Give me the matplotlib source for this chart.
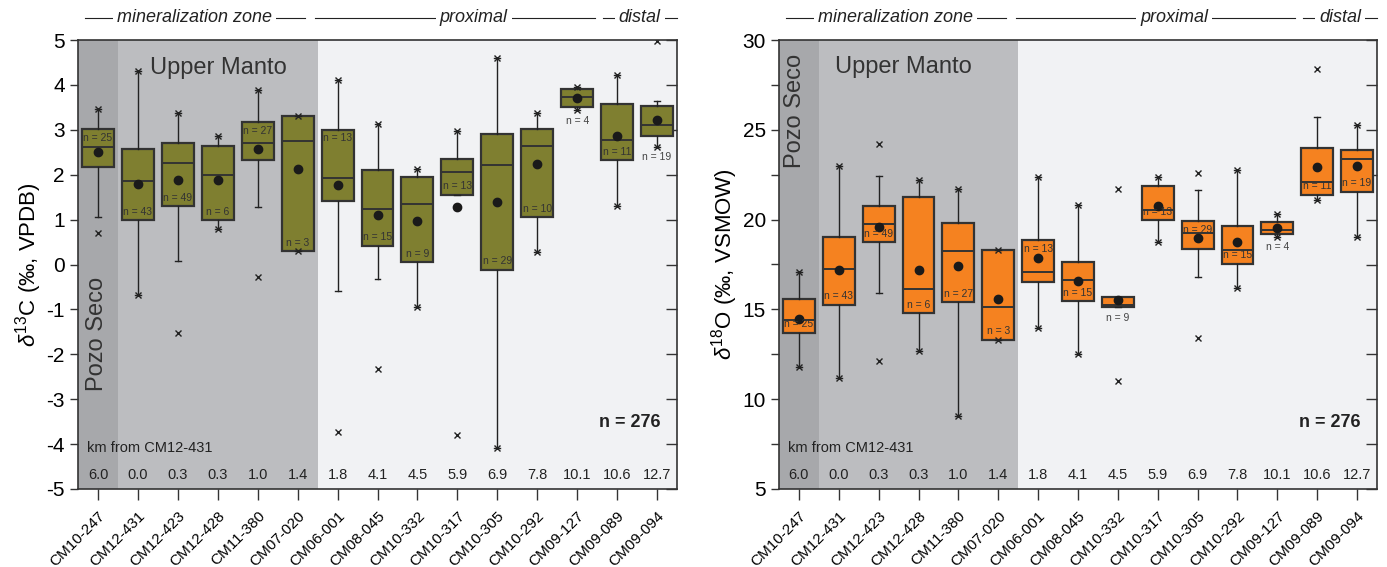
import matplotlib
matplotlib.use('Agg')
import matplotlib.pyplot as plt
import matplotlib.transforms as mtransforms
from matplotlib.ticker import MultipleLocator

plt.rcParams['font.family'] = ['Liberation Sans', 'DejaVu Sans']
plt.rcParams['mathtext.fontset'] = 'custom'
plt.rcParams['mathtext.rm'] = 'Liberation Sans'
plt.rcParams['mathtext.it'] = 'Liberation Sans:italic'
plt.rcParams['axes.unicode_minus'] = False

samples = ['CM10-247', 'CM12-431', 'CM12-423', 'CM12-428', 'CM11-380', 'CM07-020',
           'CM06-001', 'CM08-045', 'CM10-332', 'CM10-317', 'CM10-305', 'CM10-292',
           'CM09-127', 'CM09-089', 'CM09-094']
km = ['6.0', '0.0', '0.3', '0.3', '1.0', '1.4', '1.8', '4.1', '4.5', '5.9', '6.9',
      '7.8', '10.1', '10.6', '12.7']

# delta 13C
c_n = [25, 43, 49, 6, 27, 3, 13, 15, 9, 13, 29, 10, 4, 11, 19]
c_q1 = [2.17, 0.98, 1.30, 0.98, 2.33, 0.30, 1.42, 0.42, 0.05, 1.55, -0.12, 1.05, 3.51, 2.32, 2.86]
c_med = [2.62, 1.86, 2.25, 1.99, 2.71, 2.75, 1.92, 1.23, 1.34, 2.06, 2.21, 2.63, 3.72, 2.78, 3.10]
c_q3 = [3.01, 2.58, 2.70, 2.65, 3.17, 3.31, 3.00, 2.10, 1.94, 2.35, 2.90, 3.01, 3.90, 3.57, 3.53]
c_mean = [2.50, 1.80, 1.89, 1.88, 2.58, 2.13, 1.76, 1.10, 0.97, 1.27, 1.40, 2.23, 3.70, 2.87, 3.22]
c_wlo = [1.06, -0.68, 0.08, 0.80, 1.27, 0.30, -0.59, -0.32, -0.94, 1.55, -4.09, 0.27, 3.44, 1.31, 2.62]
c_whi = [3.46, 4.32, 3.38, 2.86, 3.88, 3.31, 4.12, 3.14, 2.13, 2.97, 4.59, 3.38, 3.95, 4.22, 3.64]
c_min = [0.70, -0.68, -1.53, 0.80, -0.27, 0.30, -3.72, -2.33, -0.94, -3.80, -4.09, 0.27, 3.44, 1.31, 2.62]
c_max = [3.46, 4.32, 3.38, 2.86, 3.88, 3.31, 4.12, 3.14, 2.13, 2.97, 4.59, 3.38, 3.95, 4.22, 4.97]
c_nloc = ['top', 'bottom', 'bottom', 'bottom', 'top', 'bottom', 'top', 'bottom', 'bottom',
          'bottom', 'bottom', 'bottom', 'below', 'bottom', 'below']

# delta 18O
o_n = [25, 43, 49, 6, 27, 3, 13, 15, 9, 13, 29, 15, 4, 11, 19]
o_q1 = [13.69, 15.25, 18.75, 14.78, 15.39, 13.30, 16.54, 15.45, 15.12, 19.96, 18.36, 17.54, 19.20, 21.39, 21.54]
o_med = [14.39, 17.23, 19.76, 16.14, 18.25, 15.13, 17.08, 16.64, 15.25, 20.53, 19.25, 18.32, 19.40, 22.11, 23.36]
o_q3 = [15.56, 19.03, 20.78, 21.24, 19.81, 18.29, 18.86, 17.62, 15.67, 21.85, 19.92, 19.66, 19.87, 24.00, 23.86]
o_mean = [14.49, 17.18, 19.61, 17.21, 17.43, 15.56, 17.88, 16.60, 15.52, 20.76, 18.96, 18.75, 19.53, 22.93, 22.97]
o_wlo = [11.79, 11.18, 15.93, 12.70, 9.06, 13.30, 13.94, 12.54, 15.12, 18.77, 16.82, 16.17, 19.05, 21.07, 19.01]
o_whi = [17.07, 23.00, 22.44, 22.22, 21.70, 18.29, 22.39, 20.83, 15.67, 22.39, 21.67, 22.76, 20.33, 25.70, 25.25]
o_min = [11.79, 11.18, 12.13, 12.70, 9.06, 13.30, 13.94, 12.54, 11.03, 18.77, 13.41, 16.17, 19.05, 21.07, 19.01]
o_max = [17.07, 23.00, 24.19, 22.22, 21.70, 18.29, 22.39, 20.83, 21.72, 22.39, 22.61, 22.76, 20.33, 28.37, 25.25]
o_nloc = ['bottom', 'bottom', 'bottom', 'bottom', 'bottom', 'bottom', 'top', 'bottom', 'below',
          'bottom', 'top', 'bottom', 'below', 'bottom', 'bottom']

groups = [('mineralization zone', 0.012, 0.379, 0.195),
          ('proximal', 0.396, 0.863, 0.661),
          ('distal', 0.876, 1.0, 0.938)]

DARK = '#a7a8ab'
MID = '#bcbdc0'
LIGHT = '#f1f2f4'
EDGE = '#333333'

fig = plt.figure(figsize=(13.87, 5.67), dpi=100)
axL = fig.add_axes([78 / 1387, 1 - 489 / 567, 599 / 1387, 449 / 567])
axR = fig.add_axes([779 / 1387, 1 - 489 / 567, 598 / 1387, 449 / 567])


def draw(ax, q1, med, q3, mean, wlo, whi, mn, mx, ns, nloc, color):
    stats = []
    for i in range(len(samples)):
        stats.append(dict(q1=q1[i], med=med[i], q3=q3[i], mean=mean[i],
                          whislo=wlo[i], whishi=whi[i], fliers=[mn[i], mx[i]]))
    ax.axvspan(-0.5, 0.5, color=DARK, zorder=0, lw=0)
    ax.axvspan(0.5, 5.5, color=MID, zorder=0, lw=0)
    ax.axvspan(5.5, 14.5, color=LIGHT, zorder=0, lw=0)
    ax.bxp(stats, positions=range(len(samples)), widths=0.8, patch_artist=True,
           showmeans=True, showfliers=True, capwidths=0.15,
           boxprops=dict(facecolor=color, edgecolor=EDGE, linewidth=1.6),
           medianprops=dict(color=EDGE, linewidth=1.4),
           whiskerprops=dict(color='#222222', linewidth=1.0),
           capprops=dict(color='#222222', linewidth=1.0),
           meanprops=dict(marker='o', markerfacecolor='#1a1a1a', markeredgecolor='#1a1a1a',
                          markersize=6),
           flierprops=dict(marker='x', markersize=5, markeredgecolor='#222222',
                           markeredgewidth=1.0))
    for i in range(len(samples)):
        lbl = 'n = %d' % ns[i]
        if nloc[i] == 'top':
            ax.annotate(lbl, (i, q3[i]), xytext=(0, -2.5), textcoords='offset points',
                        ha='center', va='top', fontsize=7.5, color='#333333')
        elif nloc[i] == 'bottom':
            ax.annotate(lbl, (i, q1[i]), xytext=(0, 2.5), textcoords='offset points',
                        ha='center', va='bottom', fontsize=7.5, color='#333333')
        else:
            ax.annotate(lbl, (i, min(q1[i], wlo[i])), xytext=(0, -4), textcoords='offset points',
                        ha='center', va='top', fontsize=7.5, color='#444444')
        ax.text(i, 0.031, km[i], transform=ax.get_xaxis_transform(), ha='center',
                va='center', fontsize=10.5, color='#222222')
    ax.text(0.015, 0.091, 'km from CM12-431', transform=ax.transAxes, ha='left',
            va='center', fontsize=10.5, color='#222222')
    ax.text(0.972, 0.147, 'n = 276', transform=ax.transAxes, ha='right', va='center',
            fontsize=13, fontweight='bold', color='#222222')
    ax.set_xlim(-0.5, len(samples) - 0.5)
    ax.set_xticks(range(len(samples)))
    ax.set_xticklabels(samples, rotation=45, ha='right', rotation_mode='anchor',
                       fontsize=11)
    offset = mtransforms.ScaledTranslation(7 / 72, 0, fig.dpi_scale_trans)
    for lab in ax.get_xticklabels():
        lab.set_transform(lab.get_transform() + offset)
    ax.tick_params(axis='x', direction='out', length=8, width=1, color=EDGE, pad=6)
    ax.tick_params(axis='y', which='both', direction='out', length=6, width=1, color=EDGE,
                   labelsize=15)
    ax.tick_params(axis='y', which='minor', length=6)
    for s in ax.spines.values():
        s.set_color(EDGE)
        s.set_linewidth(1.2)
    # header
    for name, x0, x1, xc in groups:
        ax.plot([x0, x1], [1.05, 1.05], transform=ax.transAxes, clip_on=False,
                color='#222222', lw=0.8, zorder=5)
        ax.text(xc, 1.05, name, transform=ax.transAxes, ha='center', va='center',
                fontsize=13, style='italic', color='#222222', zorder=6,
                bbox=dict(facecolor='white', edgecolor='none', pad=3))


draw(axL, c_q1, c_med, c_q3, c_mean, c_wlo, c_whi, c_min, c_max, c_n, c_nloc, '#7f7f30')
axL.set_ylim(-5, 5)
axL.yaxis.set_major_locator(MultipleLocator(1))
axL.set_ylabel(r'$\delta^{13}$C (‰, VPDB)', fontsize=16, labelpad=2)
secL = axL.secondary_yaxis('right')
secL.yaxis.set_major_locator(MultipleLocator(1))
secL.tick_params(direction='in', length=8, width=1, color=EDGE, labelright=False)
secL.spines['right'].set_visible(False)
axL.text(0.235, 0.937, 'Upper Manto', transform=axL.transAxes, ha='center', va='center',
         fontsize=17, color='#333333')
axL.text(0.032, 0.345, 'Pozo Seco', transform=axL.transAxes, ha='center', va='center',
         fontsize=17, rotation=90, color='#333333')

draw(axR, o_q1, o_med, o_q3, o_mean, o_wlo, o_whi, o_min, o_max, o_n, o_nloc, '#f58220')
axR.set_ylim(5, 30)
axR.yaxis.set_major_locator(MultipleLocator(5))
axR.yaxis.set_minor_locator(MultipleLocator(2.5))
axR.set_ylabel(r'$\delta^{18}$O (‰, VSMOW)', fontsize=16, labelpad=2)
secR = axR.secondary_yaxis('right')
secR.yaxis.set_major_locator(MultipleLocator(2.5))
secR.tick_params(direction='in', length=8, width=1, color=EDGE, labelright=False)
secR.spines['right'].set_visible(False)
axR.text(0.2085, 0.94, 'Upper Manto', transform=axR.transAxes, ha='center', va='center',
         fontsize=17, color='#333333')
axR.text(0.026, 0.842, 'Pozo Seco', transform=axR.transAxes, ha='center', va='center',
         fontsize=17, rotation=90, color='#333333')

fig.savefig('out.png', dpi=100, facecolor='white')
